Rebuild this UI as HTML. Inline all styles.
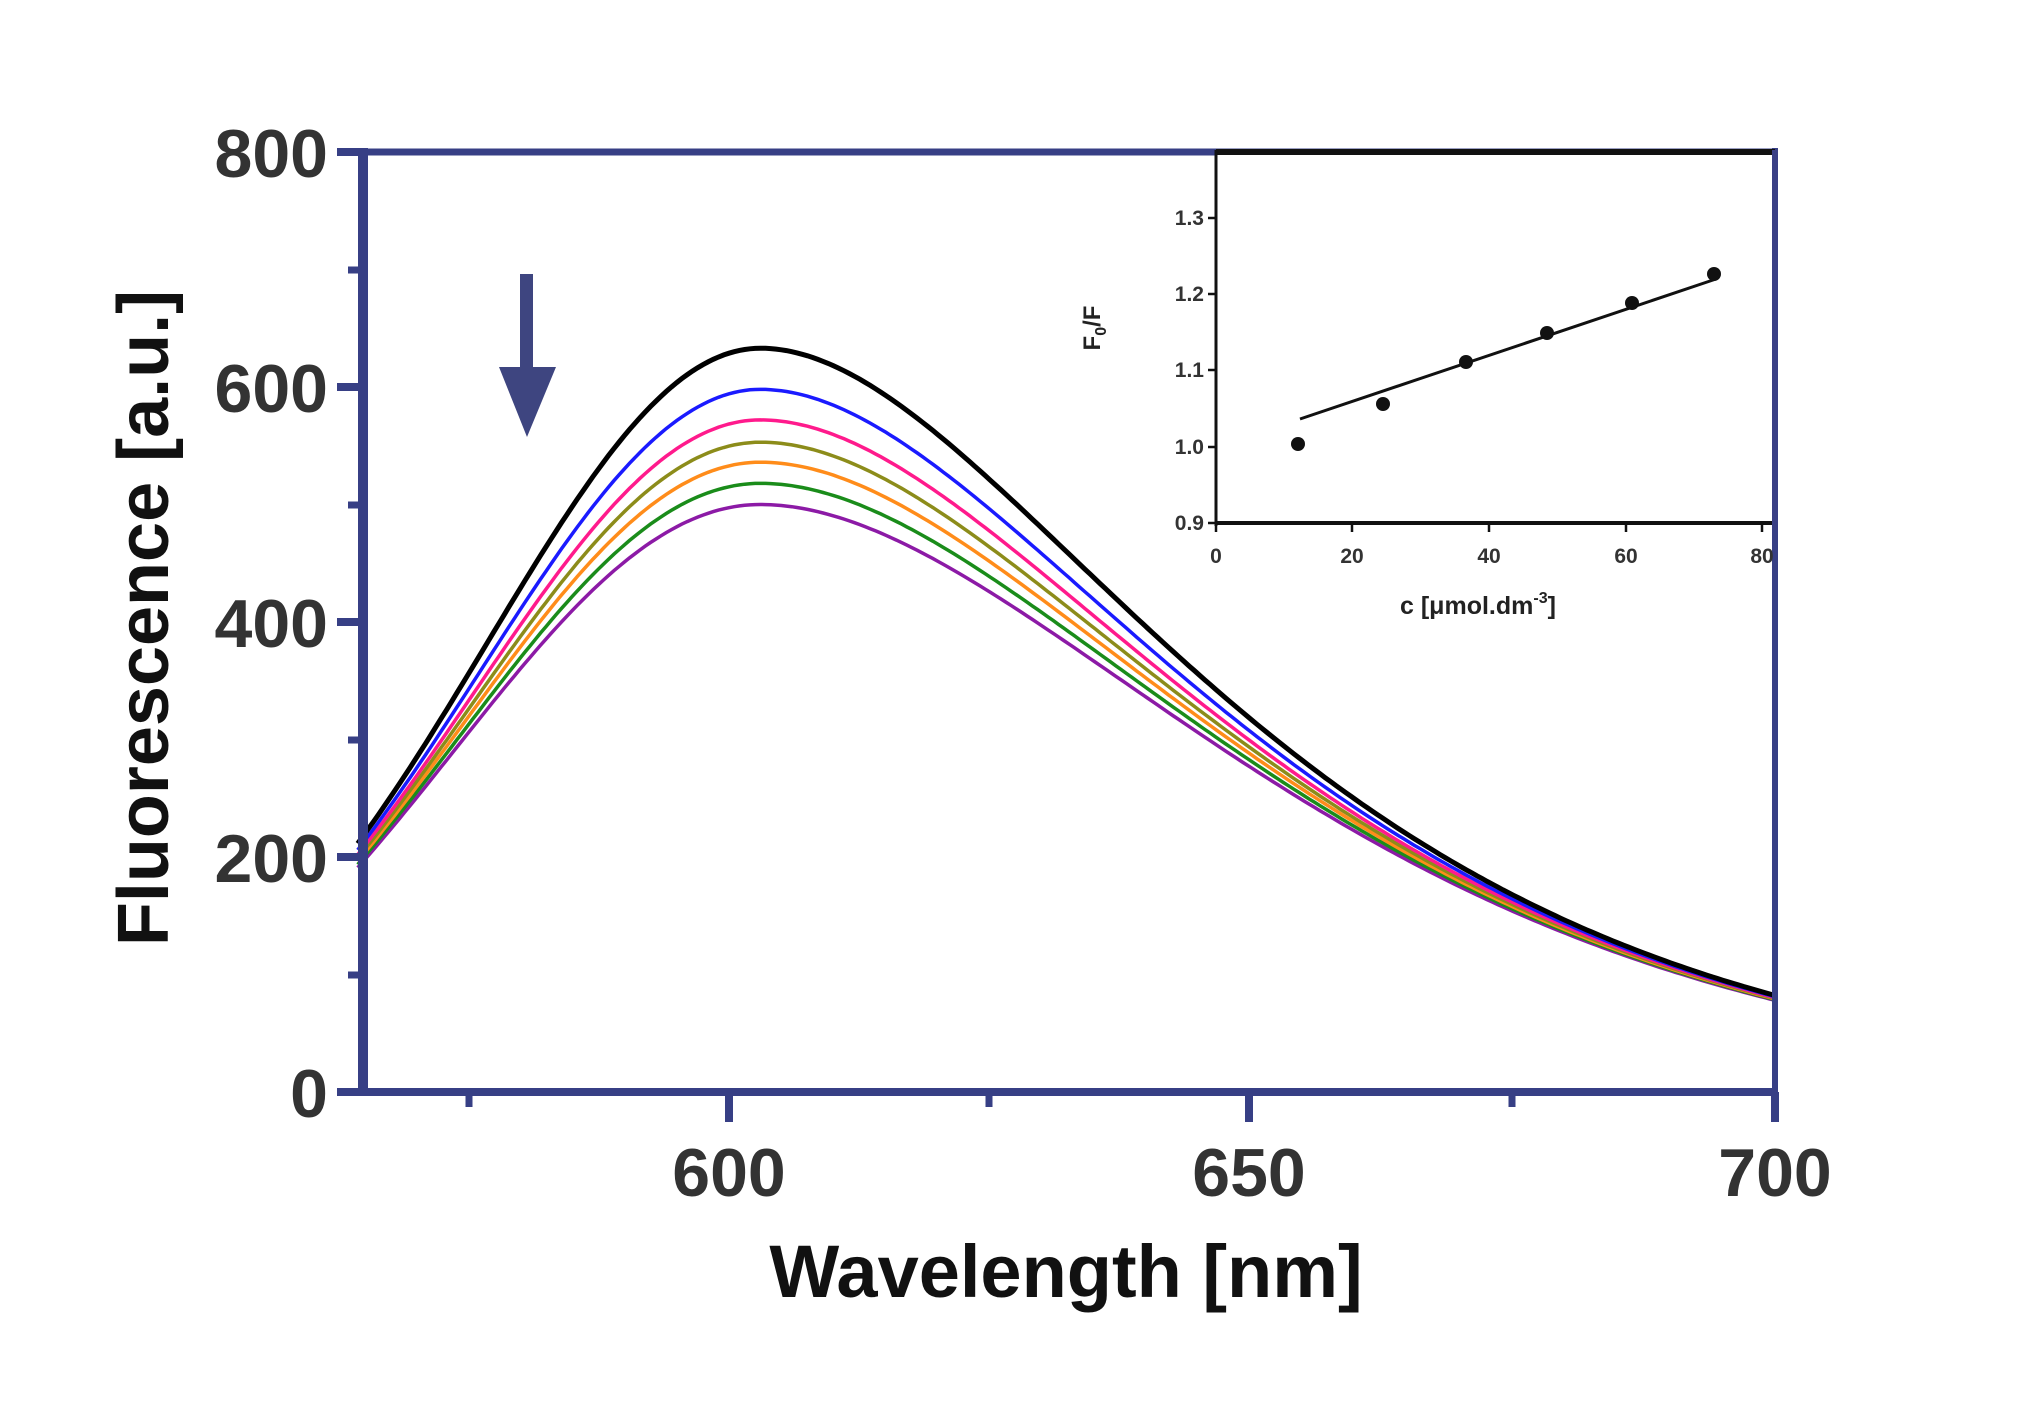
<!DOCTYPE html>
<html><head><meta charset="utf-8"><style>
html,body{margin:0;padding:0;background:#fff;}
svg{display:block;}
text{font-family:"Liberation Sans",Arial,sans-serif;}
</style></head><body>
<svg id="s" width="2020" height="1417" viewBox="0 0 2020 1417" xmlns="http://www.w3.org/2000/svg">
<rect width="2020" height="1417" fill="#fff"/>
<g id="curves" fill="none" stroke-width="3.5"></g>
<g stroke="#373f85" fill="none">
<line x1="363" y1="152" x2="1775" y2="152" stroke-width="7"/>
<line x1="1775" y1="148" x2="1775" y2="1095" stroke-width="6"/>
<line x1="363" y1="148" x2="363" y2="1096" stroke-width="10"/>
<line x1="337" y1="1092" x2="1778" y2="1092" stroke-width="8"/>
<line x1="337" y1="152" x2="363" y2="152" stroke-width="8"/>
<line x1="337" y1="387" x2="363" y2="387" stroke-width="8"/>
<line x1="337" y1="622" x2="363" y2="622" stroke-width="8"/>
<line x1="337" y1="857" x2="363" y2="857" stroke-width="8"/>
<line x1="348" y1="270" x2="363" y2="270" stroke-width="7"/>
<line x1="348" y1="505" x2="363" y2="505" stroke-width="7"/>
<line x1="348" y1="740" x2="363" y2="740" stroke-width="7"/>
<line x1="348" y1="975" x2="363" y2="975" stroke-width="7"/>
<line x1="729" y1="1092" x2="729" y2="1122" stroke-width="8"/>
<line x1="1249" y1="1092" x2="1249" y2="1122" stroke-width="8"/>
<line x1="1775" y1="1092" x2="1775" y2="1122" stroke-width="8"/>
<line x1="469" y1="1092" x2="469" y2="1107" stroke-width="7"/>
<line x1="989" y1="1092" x2="989" y2="1107" stroke-width="7"/>
<line x1="1512" y1="1092" x2="1512" y2="1107" stroke-width="7"/>
</g>
<rect x="520" y="274" width="13" height="96" fill="#3e4580"/>
<polygon points="499,367 556,367 527,437" fill="#3e4580"/>
<g font-size="68" font-weight="bold" fill="#333" text-anchor="end">
<text x="328" y="177">800</text>
<text x="328" y="412">600</text>
<text x="328" y="647">400</text>
<text x="328" y="882">200</text>
<text x="328" y="1117">0</text>
</g>
<g font-size="68" font-weight="bold" fill="#333" text-anchor="middle">
<text x="729" y="1196">600</text>
<text x="1249" y="1196">650</text>
<text x="1775" y="1196">700</text>
</g>
<text x="1066" y="1297" font-size="74" font-weight="bold" fill="#111" text-anchor="middle">Wavelength [nm]</text>
<text transform="translate(168,618) rotate(-90)" font-size="72" font-weight="bold" fill="#111" text-anchor="middle">Fluorescence [a.u.]</text>
<rect x="1216" y="152" width="559" height="371" fill="#fff"/>
<g stroke="#111" fill="none">
<line x1="1216" y1="152" x2="1775" y2="152" stroke-width="6"/>
<line x1="1216" y1="150" x2="1216" y2="526" stroke-width="3"/>
<line x1="1216" y1="523" x2="1777" y2="523" stroke-width="4"/>
<line x1="1208" y1="218" x2="1216" y2="218" stroke-width="2.5"/>
<line x1="1208" y1="294" x2="1216" y2="294" stroke-width="2.5"/>
<line x1="1208" y1="370" x2="1216" y2="370" stroke-width="2.5"/>
<line x1="1208" y1="447" x2="1216" y2="447" stroke-width="2.5"/>
<line x1="1208" y1="523" x2="1216" y2="523" stroke-width="2.5"/>
<line x1="1216" y1="523" x2="1216" y2="532" stroke-width="2.5"/>
<line x1="1352" y1="523" x2="1352" y2="532" stroke-width="2.5"/>
<line x1="1489" y1="523" x2="1489" y2="532" stroke-width="2.5"/>
<line x1="1626" y1="523" x2="1626" y2="532" stroke-width="2.5"/>
<line x1="1762" y1="523" x2="1762" y2="532" stroke-width="2.5"/>
</g>
<line stroke="#3a3f85" stroke-width="6" x1="1775" y1="150" x2="1775" y2="530"/>
<line x1="1300" y1="419" x2="1716" y2="279" stroke="#111" stroke-width="3"/>
<g fill="#111">
<circle cx="1298" cy="444" r="7"/>
<circle cx="1383" cy="404" r="7"/>
<circle cx="1466" cy="362" r="7"/>
<circle cx="1547" cy="333" r="7"/>
<circle cx="1632" cy="303" r="7"/>
<circle cx="1714" cy="274" r="7"/>
</g>
<g font-size="21" fill="#333" text-anchor="end" font-weight="bold">
<text x="1204" y="225">1.3</text>
<text x="1204" y="301">1.2</text>
<text x="1204" y="377">1.1</text>
<text x="1204" y="454">1.0</text>
<text x="1204" y="530">0.9</text>
</g>
<g font-size="21" fill="#333" text-anchor="middle" font-weight="bold">
<text x="1216" y="563">0</text>
<text x="1352" y="563">20</text>
<text x="1489" y="563">40</text>
<text x="1626" y="563">60</text>
<text x="1762" y="563">80</text>
</g>
<text x="1400" y="614" font-size="25" font-weight="bold" fill="#222">c [μmol.dm<tspan font-size="16" dy="-11">-3</tspan><tspan dy="11">]</tspan></text>
<text transform="translate(1100,328) rotate(-90)" font-size="24" font-weight="bold" fill="#222" text-anchor="middle">F<tspan font-size="16" dy="6">0</tspan><tspan dy="-6">/F</tspan></text>
</svg>
<script>
(function(){
var g=document.getElementById('curves');
function X(l){return 729+(l-600)*10.46;}
function Y(v){return 1092-v*1.175;}
function gn(l){var d=l-603;if(d<0)return Math.exp(-d*d/(2*26*26));return Math.exp(-0.000541*d*d/(1+0.0154*d));}
var ser=[["#000",633],["#1a1aff",598],["#ff1a8c",572],["#8c8c1a",553],["#ff8c1a",536],["#1a8c1a",518],["#8c1aa6",500]];
for(var i=ser.length-1;i>=0;i--){var P=ser[i][1];var d="";
for(var l=564.5;l<=700.01;l+=0.5){var gv=gn(l);var v=633*gv-(633-P)*Math.pow(gv,1.7);d+=(d?"L":"M")+X(l).toFixed(1)+","+Y(v).toFixed(1);}
var p=document.createElementNS("http://www.w3.org/2000/svg","path");p.setAttribute("d",d);p.setAttribute("stroke",ser[i][0]);if(i==0)p.setAttribute("stroke-width","5");g.appendChild(p);}
})();
</script>
</body></html>
